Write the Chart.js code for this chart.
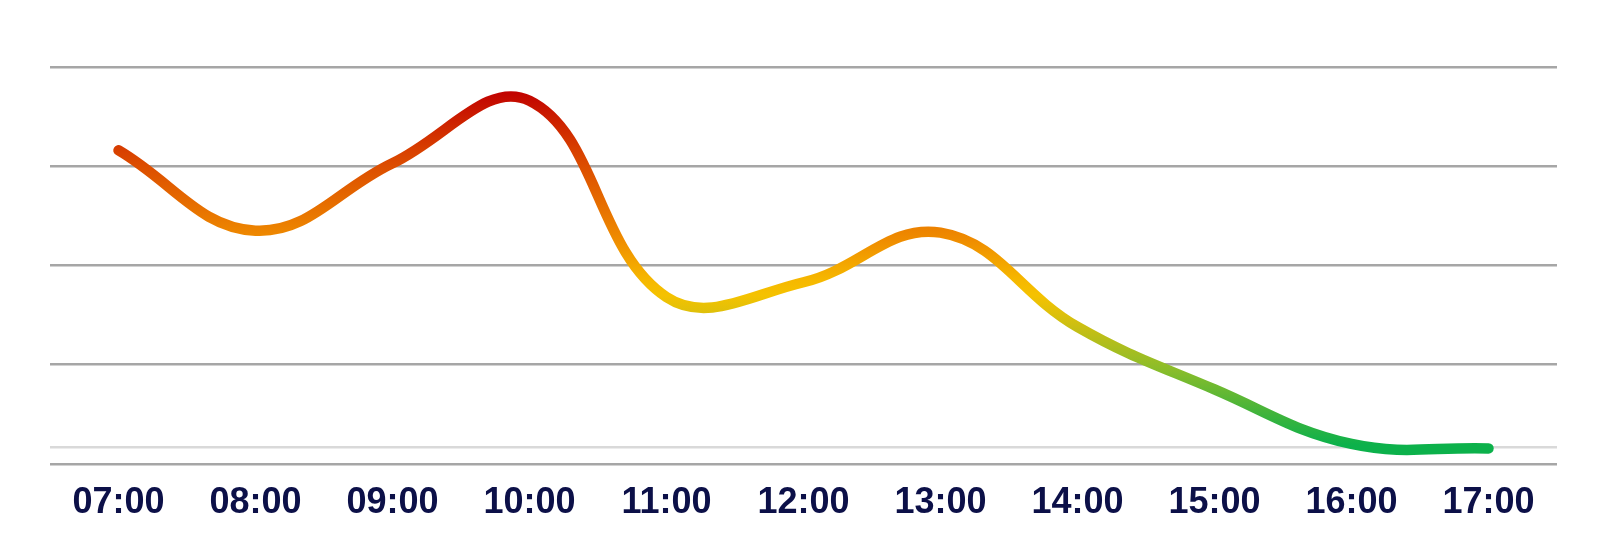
<!DOCTYPE html>
<html>
<head>
<meta charset="utf-8">
<script src="https://cdn.jsdelivr.net/npm/chart.js@4.4.1/dist/chart.umd.min.js"></script>
<style>
  html, body { margin: 0; padding: 0; background: #ffffff; }
  #wrap { width: 1608px; height: 553px; position: relative; }
</style>
</head>
<body>
<div id="wrap"><canvas id="c" width="1608" height="553"></canvas></div>
<script>
// ---- data ----
const categories = ['07:00', '08:00', '09:00', '10:00', '11:00', '12:00', '13:00', '14:00', '15:00', '16:00', '17:00'];
const seriesValues = [31.6, 23.5, 30.3, 36.6, 16.8, 18.3, 23.3, 13.8, 7.5, 2.0, 1.55];
const yGridValues = [0, 10, 20, 30, 40];
const baselineValue = 1.7;
// colour stops keyed by value
const stopValues = [37.7, 31.6, 26.6, 22.6, 18.5, 17.0, 15.0, 13.0, 9.5, 5.4, 1.9];
const stopColors = ['#C00000', '#D84000', '#E56A00', '#EF8C00', '#F6B800', '#F5C200', '#DCC00C', '#BDBE18', '#8ABD2A', '#46B43A', '#0CB14B'];

function lineGradient(context) {
  const chart = context.chart;
  const area = chart.chartArea;
  const y = chart.scales.y;
  if (!area || !y) return stopColors[0];
  const top = area.top, bottom = area.bottom;
  const g = chart.ctx.createLinearGradient(0, top, 0, bottom);
  for (let i = 0; i < stopValues.length; i++) {
    const p = y.getPixelForValue(stopValues[i]);
    const f = Math.min(1, Math.max(0, (p - top) / (bottom - top)));
    g.addColorStop(f, stopColors[i]);
  }
  return g;
}

new Chart(document.getElementById('c'), {
  type: 'line',
  data: {
    labels: categories,
    datasets: [{
      data: seriesValues,
      borderColor: lineGradient,
      borderWidth: 10.5,
      borderCapStyle: 'round',
      borderJoinStyle: 'round',
      pointRadius: 0,
      pointHoverRadius: 0,
      tension: 0.4,
      fill: false
    }]
  },
  options: {
    responsive: false,
    animation: false,
    events: [],
    layout: { padding: { left: 50, right: 51, top: 67, bottom: 10 } },
    plugins: { legend: { display: false }, tooltip: { enabled: false } },
    scales: {
      x: {
        offset: true,
        grid: { display: false, drawTicks: false },
        border: { display: false },
        ticks: {
          padding: 18,
          color: '#0c1048',
          font: { family: '"Liberation Sans", Arial, sans-serif', size: 36, weight: 'bold' },
          maxRotation: 0,
          autoSkip: false
        }
      },
      y: {
        min: 0,
        max: 40,
        afterBuildTicks: (scale) => {
          const vals = yGridValues.concat([baselineValue]).sort((a, b) => a - b);
          scale.ticks = vals.map(v => ({ value: v }));
        },
        border: { display: false },
        grid: {
          drawTicks: false,
          lineWidth: 2.5,
          color: (ctx) => (ctx.tick && ctx.tick.value === baselineValue) ? '#d9d9d9' : '#a6a6a6'
        },
        ticks: { display: false }
      }
    }
  }
});
</script>
</body>
</html>
